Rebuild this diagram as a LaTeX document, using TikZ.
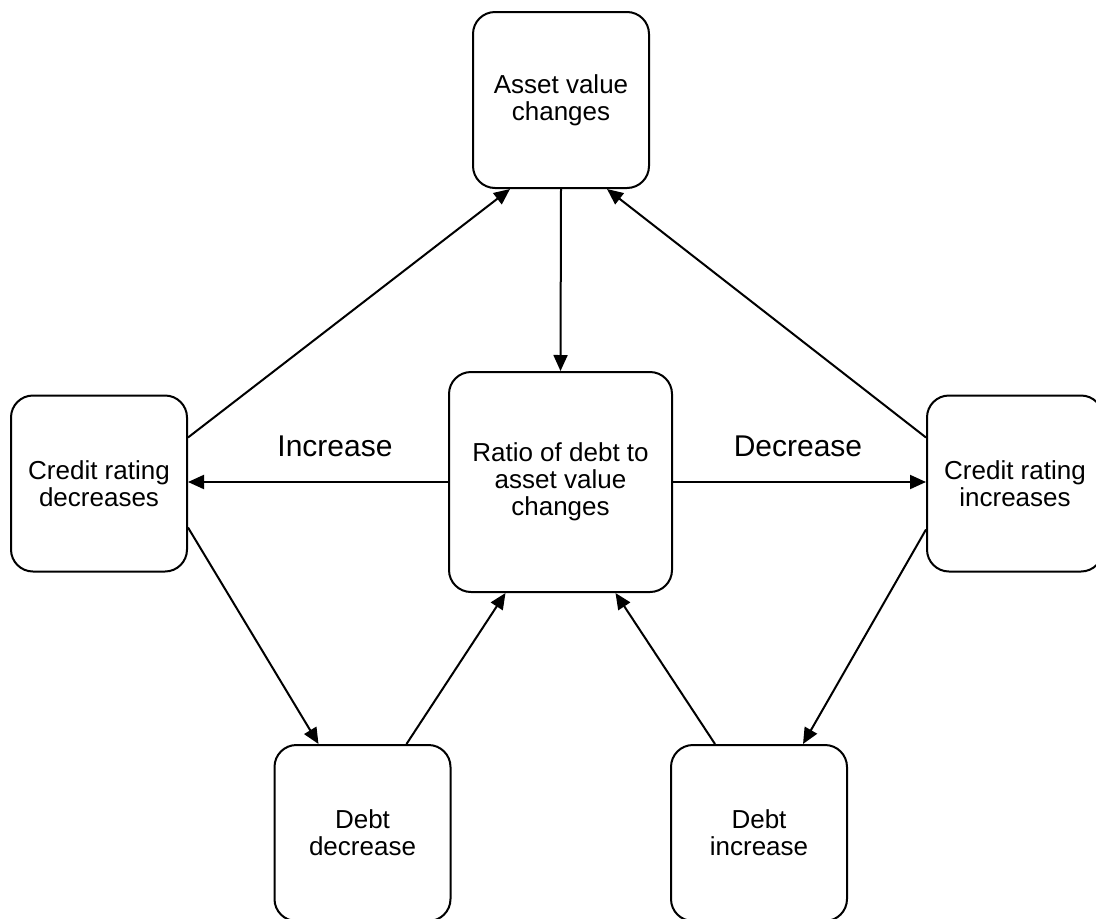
\documentclass[tikz,border=0pt]{standalone}
\usepackage{fontspec}
\setmainfont{Liberation Sans}
\usetikzlibrary{arrows.meta}
\tikzset{
  box/.style={draw, line width=2pt, rounded corners=22pt, align=center,
    minimum width=176pt, minimum height=176pt, inner sep=0pt,
    font=\fontsize{26}{27}\selectfont},
  conn/.style={line width=2pt, -{Triangle[length=16pt,width=14pt]}},
  lbl/.style={anchor=base, inner sep=0pt, font=\fontsize{30}{32}\selectfont}
}
\begin{document}
\begin{tikzpicture}[x=1pt,y=-1pt]
\useasboundingbox (0,0) rectangle (1096,919);
\clip (0,0) rectangle (1096,919);
\node[box] (av) at (561,100) {Asset value\\changes};
\node[box, minimum width=223pt, minimum height=220pt] (ra) at (560.5,482) {Ratio of debt to\\asset value\\changes};
\node[box] (cd) at (99,483.5) {Credit rating\\decreases};
\node[box] (ci) at (1015,483.5) {Credit rating\\increases};
\node[box] (dd) at (362.5,833) {Debt\\decrease};
\node[box] (di) at (759,833) {Debt\\increase};
\node[lbl] (inc) at (335,456) {Increase};
\node[lbl] (dec) at (798,456) {Decrease};
\draw[conn] ([yshift=46pt]cd.east) -- ([xshift=-51pt]av.south);
\draw[conn] ([yshift=46pt]ci.west) -- ([xshift=46pt]av.south);
\draw[conn] (av.south) -- (ra.north);
\draw[conn] (ra.west) -- (ra.west -| cd.east);
\draw[conn] (ra.east) -- (ra.east -| ci.west);
\draw[conn] ([yshift=-44pt]cd.east) -- ([xshift=-44pt]dd.north);
\draw[conn] ([xshift=44pt]dd.north) -- ([xshift=-55pt]ra.south);
\draw[conn] ([xshift=-44pt]di.north) -- ([xshift=55pt]ra.south);
\draw[conn] ([yshift=-46pt]ci.west) -- ([xshift=44pt]di.north);
\end{tikzpicture}
\end{document}
